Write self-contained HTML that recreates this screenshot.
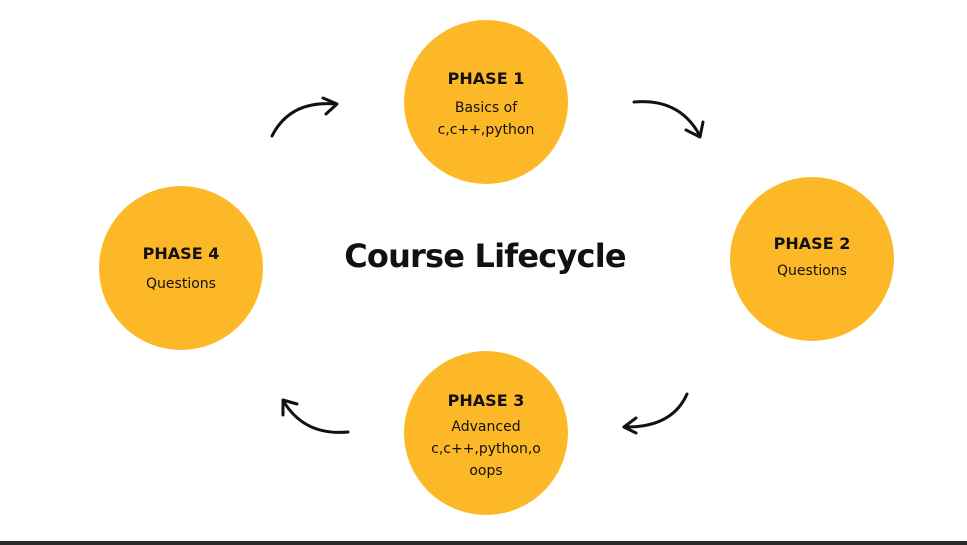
<!DOCTYPE html>
<html><head><meta charset="utf-8"><style>
html,body{margin:0;padding:0;background:#fff;}
body{width:967px;height:545px;position:relative;overflow:hidden;font-family:"DejaVu Sans","Liberation Sans",sans-serif;color:#111;}
.c{position:absolute;width:164px;height:164px;border-radius:50%;background:#FDB827;text-align:center;}
.c b{display:block;font-size:16px;font-weight:bold;}
.c span{display:block;font-size:14px;line-height:22px;}
.t{position:absolute;left:300px;top:237px;width:370px;text-align:center;font-size:32px;font-weight:bold;letter-spacing:-0.8px;}
.line{position:absolute;left:0;top:541px;width:967px;height:4px;background:#2a2a2a;}
</style></head><body>
<div class="c" style="left:404px;top:20px"><b style="margin-top:49px">PHASE 1</b><span style="margin-top:9px">Basics of<br>c,c++,python</span></div>
<div class="c" style="left:730px;top:177px"><b style="margin-top:57px">PHASE 2</b><span style="margin-top:7px">Questions</span></div>
<div class="c" style="left:404px;top:351px"><b style="margin-top:40px">PHASE 3</b><span style="margin-top:6px">Advanced<br>c,c++,python,o<br>oops</span></div>
<div class="c" style="left:99px;top:186px"><b style="margin-top:58px">PHASE 4</b><span style="margin-top:10px">Questions</span></div>
<div class="t">Course Lifecycle</div>
<svg width="967" height="545" style="position:absolute;left:0;top:0" fill="none" stroke="#111" stroke-width="3" stroke-linecap="round" stroke-linejoin="round">
<path d="M272 136 Q290 100 336 104"/><path d="M323 98 L337 104 L326 114"/>
<path d="M634 102 Q680 98 700 136"/><path d="M686 130 L700 137 L703 122"/>
<path d="M687 394 Q672 428 624 427"/><path d="M636 418 L624 427 L636 433"/>
<path d="M348 432 Q305 436 284 402"/><path d="M283 415 L283 400 L297 404"/>
</svg>
<div class="line"></div>
</body></html>
